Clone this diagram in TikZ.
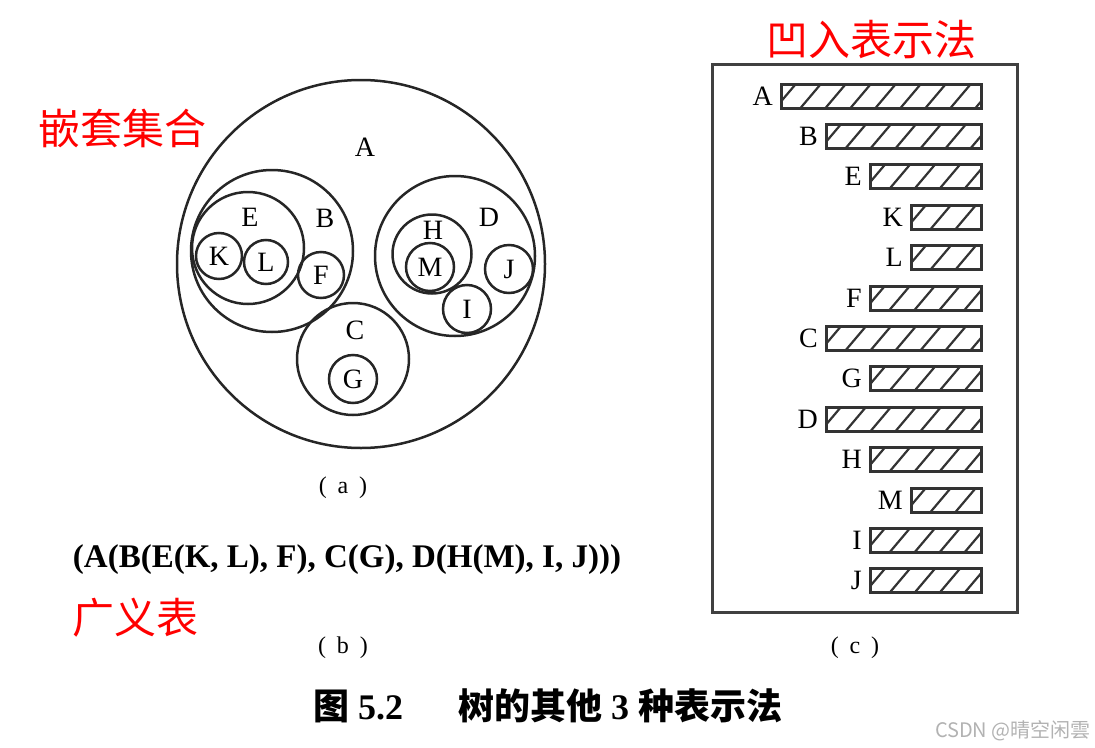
\documentclass[tikz,border=0pt]{standalone}
\usepackage{fontspec}
\setmainfont{Liberation Serif}
\newfontfamily\cjk{Noto Sans CJK SC}
\usetikzlibrary{positioning}

\begin{document}
\begin{tikzpicture}[x=1pt, y=-1pt,
    ring/.style={draw=black!85, line width=2.5pt, circle, inner sep=0pt, font=\fontsize{28}{28}\selectfont},
    letter/.style={inner sep=0pt, font=\fontsize{28}{28}\selectfont},
    redtag/.style={inner sep=0pt, text=red, font=\cjk\fontsize{42}{42}\selectfont},
    sub/.style={inner sep=0pt, font=\fontsize{24}{24}\selectfont},
    barbox/.style={draw=black!80, line width=3pt, inner sep=0pt, minimum height=24pt, anchor=east,
      path picture={\foreach \k in {0,...,9}
        \draw[black!80, line width=2.2pt] ([xshift=\k*25pt-6pt]path picture bounding box.south west) -- ++(22pt,26pt);}},
    barlbl/.style={inner sep=0pt, font=\fontsize{28}{28}\selectfont}
  ]
    \useasboundingbox (0,0) rectangle (1095,747);

    % (a) nested sets
    \node[ring, minimum size=368pt] (cA) at (361,264) {};
    \node[letter] (tA) at (365,147) {A};
    \node[ring, minimum size=162pt] (cB) at (272,251) {};
    \node[letter] (tB) at (325,218) {B};
    \node[ring, minimum size=112pt] (cE) at (248,248) {};
    \node[letter] (tE) at (250,217) {E};
    \node[ring, minimum size=46pt] (cK) at (219,256) {K};
    \node[ring, minimum size=44pt] (cL) at (266,262) {L};
    \node[ring, minimum size=46pt] (cF) at (321,275) {F};
    \node[ring, minimum size=112pt] (cC) at (353,359) {};
    \node[letter] (tC) at (355,330) {C};
    \node[ring, minimum size=48pt] (cG) at (353,379) {G};
    \node[ring, minimum size=160pt] (cD) at (455,256) {};
    \node[letter] (tD) at (489,217) {D};
    \node[ring, minimum size=79pt] (cH) at (432,254) {};
    \node[letter] (tH) at (433,230) {H};
    \node[ring, minimum size=48pt] (cM) at (430,267) {M};
    \node[ring, minimum size=48pt] (cI) at (467,309) {I};
    \node[ring, minimum size=48pt] (cJ) at (509,269) {J};
    \node[redtag] (nest) at (122,128) {嵌套集合};
    \node[sub] (suba) at (343,488) {(\hspace{0.45em}a\hspace{0.45em})};

    % (b) generalized list
    \node[inner sep=0pt, font=\bfseries\fontsize{33}{33}\selectfont] (glist) at (347,560) {(A(B(E(K, L), F), C(G), D(H(M), I, J)))};
    \node[redtag] (gtag) at (135,618) {广义表};
    \node[sub] (subb) at (343,648) {(\hspace{0.45em}b\hspace{0.45em})};

    % (c) indented bars
    \draw[black!75, line width=3pt] (712,64) rectangle (1017,612);
    \node[redtag] (indent) at (871,40) {凹入表示法};
    \foreach \name/\w [count=\i from 0] in {A/200, B/155, E/111, K/70, L/70, F/111, C/155,
        G/111, D/155, H/111, M/70, I/111, J/111} {
      \node[barbox, minimum width=\w*1pt] (b\name) at (983,96+40.4*\i) {};
      \node[barlbl, left=7pt of b\name] (l\name) {\name};
    }
    \node[sub] (subc) at (855,648) {(\hspace{0.45em}c\hspace{0.45em})};

    \node[inner sep=0pt, anchor=west, font=\fontsize{36}{36}\selectfont\bfseries] (fig) at (313,706)
      {{\cjk 图} 5.2};
    \node[inner sep=0pt, anchor=west, font=\fontsize{36}{36}\selectfont\bfseries] (capt) at (458,706)
      {{\cjk 树的其他} 3 {\cjk 种表示法}};
    \node[inner sep=0pt, anchor=east, text=black!30, font=\cjk\fontsize{20}{20}\selectfont] (mark) at (1091,731)
      {CSDN @晴空闲雲};
\end{tikzpicture}
\end{document}
